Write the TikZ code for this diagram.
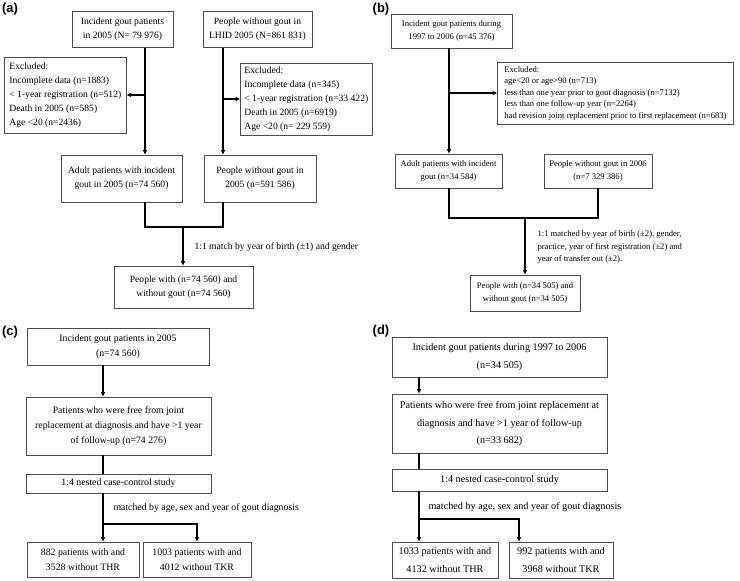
\documentclass[tikz,border=0pt]{standalone}
\usepackage{fontspec}
\setmainfont{Liberation Serif}
\newfontfamily\panelfont{Liberation Sans}
\usetikzlibrary{arrows.meta}

\tikzset{
	box/.style={draw=black!70, line width=0.8pt, align=center, inner sep=0pt},
	exbox/.style={draw=black!70, line width=0.8pt, align=left, inner xsep=5pt, inner ysep=0pt, anchor=west},
	link/.style={line width=1.2pt},
	arr/.style={line width=1.2pt, -{Triangle[length=4.5pt,width=4pt]}},
	panel/.style={font=\panelfont\bfseries\fontsize{13}{13}\selectfont},
	fa/.style={font=\fontsize{9.6}{14}\selectfont},
	fb/.style={font=\fontsize{8.6}{12.5}\selectfont},
	fbx/.style={font=\fontsize{8.6}{11.5}\selectfont},
	fc/.style={font=\fontsize{9.8}{15}\selectfont},
	fd/.style={font=\fontsize{10.2}{17.5}\selectfont}
}

\begin{document}
\begin{tikzpicture}[x=1pt, y=-1pt]
	\useasboundingbox (0,0) rectangle (740,581);

	\node[panel] (la) at (10,9) {(a)};
	\node[box,fa,minimum width=101,minimum height=36] (a1) at (122.5,29.5) {Incident gout patients\\in 2005 (N= 79 976)};
	\node[box,fa,minimum width=109,minimum height=36] (a2) at (257.5,29.5) {People without gout in\\LHID 2005 (N=861 831)};
	\node[exbox,fa,minimum height=76] (xa) at (4,95) {Excluded:\\Incomplete data (n=1883)\\< 1-year registration (n=512)\\Death in 2005 (n=585)\\Age <20 (n=2436)};
	\node[exbox,fa,inner xsep=4pt,minimum height=72] (xb) at (240,99) {Excluded:\\Incomplete data (n=345)\\< 1-year registration (n=33 422)\\Death in 2005 (n=6919)\\Age <20 (n= 229 559)};
	\node[box,fa,minimum width=121,minimum height=47] (a3) at (121.5,178.5) {Adult patients with incident\\gout in 2005 (n=74 560)};
	\node[box,fa,minimum width=112,minimum height=47] (a4) at (260,178.5) {People without gout in\\2005 (n=591 586)};
	\node[fa,anchor=west] (ma) at (191,247) {1:1 match by year of birth (±1) and gender};
	\node[box,fa,minimum width=139,minimum height=42] (a5) at (183.5,287) {People with (n=74 560) and\\without gout (n=74 560)};
	\coordinate (ca) at (145,0);
	\coordinate (cb) at (223,0);
	\coordinate (ja) at (183,227);
	\draw[arr] (a1.south -| ca) -- (a3.north -| ca);
	\draw[arr] (a2.south -| cb) -- (a4.north -| cb);
	\draw[arr] (xa.east -| ca) -- (xa.east);
	\draw[arr] (xb.west -| cb) -- (xb.west);
	\draw[link] (a3.south -| ca) |- (ja) -| (a4.south -| cb);
	\draw[arr] (ja) -- (ja |- a5.north);

	\node[panel] (lb) at (381,9) {(b)};
	\node[box,fb,minimum width=121,minimum height=34] (b1) at (451.5,31) {Incident gout patients during\\1997 to 2006 (n=45 376)};
	\node[exbox,fbx,inner xsep=7pt,minimum height=62] (xc) at (497,93) {Excluded:\\age<20 or age>90 (n=713)\\less than one year prior to gout diagnosis (n=7132)\\less than one follow-up year (n=2264)\\had revision joint replacement prior to first replacement (n=683)};
	\node[box,fb,minimum width=107,minimum height=34] (b3) at (448.5,171) {Adult patients with incident\\gout (n=34 584)};
	\node[box,fb,minimum width=108,minimum height=34] (b4) at (598,171) {People without gout in 2006\\(n=7 329 386)};
	\node[fb,align=left,anchor=west] (mb) at (534,247) {1:1 matched by year of birth (±2), gender,\\practice, year of first registration (±2) and\\year of transfer out (±2).};
	\node[box,fb,minimum width=110,minimum height=36] (b5) at (525,293) {People with (n=34 505) and\\without gout (n=34 505)};
	\coordinate (cc) at (449,0);
	\coordinate (jb) at (525,218);
	\draw[arr] (b1.south -| cc) -- (b3.north -| cc);
	\draw[arr] (xc.west -| cc) -- (xc.west);
	\draw[link] (b3.south -| cc) |- (jb) -| (b4.south);
	\draw[arr] (jb) -- (jb |- b5.north);

	\node[panel] (lc) at (10,332) {(c)};
	\node[box,fc,minimum width=182,minimum height=37] (c1) at (118,346.5) {Incident gout patients in 2005\\(n=74 560)};
	\node[box,fc,minimum width=185,minimum height=58] (c2) at (118.5,426) {Patients who were free from joint\\replacement at diagnosis and have >1 year\\of follow-up (n=74 276)};
	\node[box,fc,minimum width=185,minimum height=19] (c3) at (118.5,483.5) {1:4 nested case-control study};
	\node[fc,anchor=west] (mc) at (110,508) {matched by age, sex and year of gout diagnosis};
	\node[box,fc,minimum width=112,minimum height=35] (c4) at (83,559.5) {882 patients with and\\3528 without THR};
	\node[box,fc,minimum width=108,minimum height=35] (c5) at (197,559.5) {1003 patients with and\\4012 without TKR};
	\coordinate (cd) at (103,0);
	\coordinate (jc) at (103,524);
	\draw[arr] (c1.south -| cd) -- (c2.north -| cd);
	\draw[link] (c2.south -| cd) -- (c3.north -| cd);
	\draw[arr] (c3.south -| cd) -- (c4.north -| cd);
	\draw[arr] (jc) -| (c5.north);

	\node[panel] (ld) at (381,331) {(d)};
	\node[box,fd,minimum width=215,minimum height=40] (d1) at (499.5,357) {Incident gout patients during 1997 to 2006\\(n=34 505)};
	\node[box,fd,minimum width=215,minimum height=59] (d2) at (499.5,423.5) {Patients who were free from joint replacement at\\diagnosis and have >1 year of follow-up\\(n=33 682)};
	\node[box,fd,minimum width=215,minimum height=22] (d3) at (499.5,480) {1:4 nested case-control study};
	\node[fd,anchor=west] (md) at (425,507) {matched by age, sex and year of gout diagnosis};
	\node[box,fd,minimum width=106,minimum height=36] (d4) at (445,560) {1033 patients with and\\4132 without THR};
	\node[box,fd,minimum width=104,minimum height=36] (d5) at (561,560) {992 patients with and\\3968 without TKR};
	\coordinate (ce) at (419,0);
	\coordinate (cf) at (519,0);
	\coordinate (jd) at (419,519);
	\draw[arr] (d1.south -| ce) -- (d2.north -| ce);
	\draw[link] (d2.south -| ce) -- (d3.north -| ce);
	\draw[arr] (d3.south -| ce) -- (d4.north -| ce);
	\draw[arr] (jd) -| (d5.north -| cf);
\end{tikzpicture}
\end{document}
